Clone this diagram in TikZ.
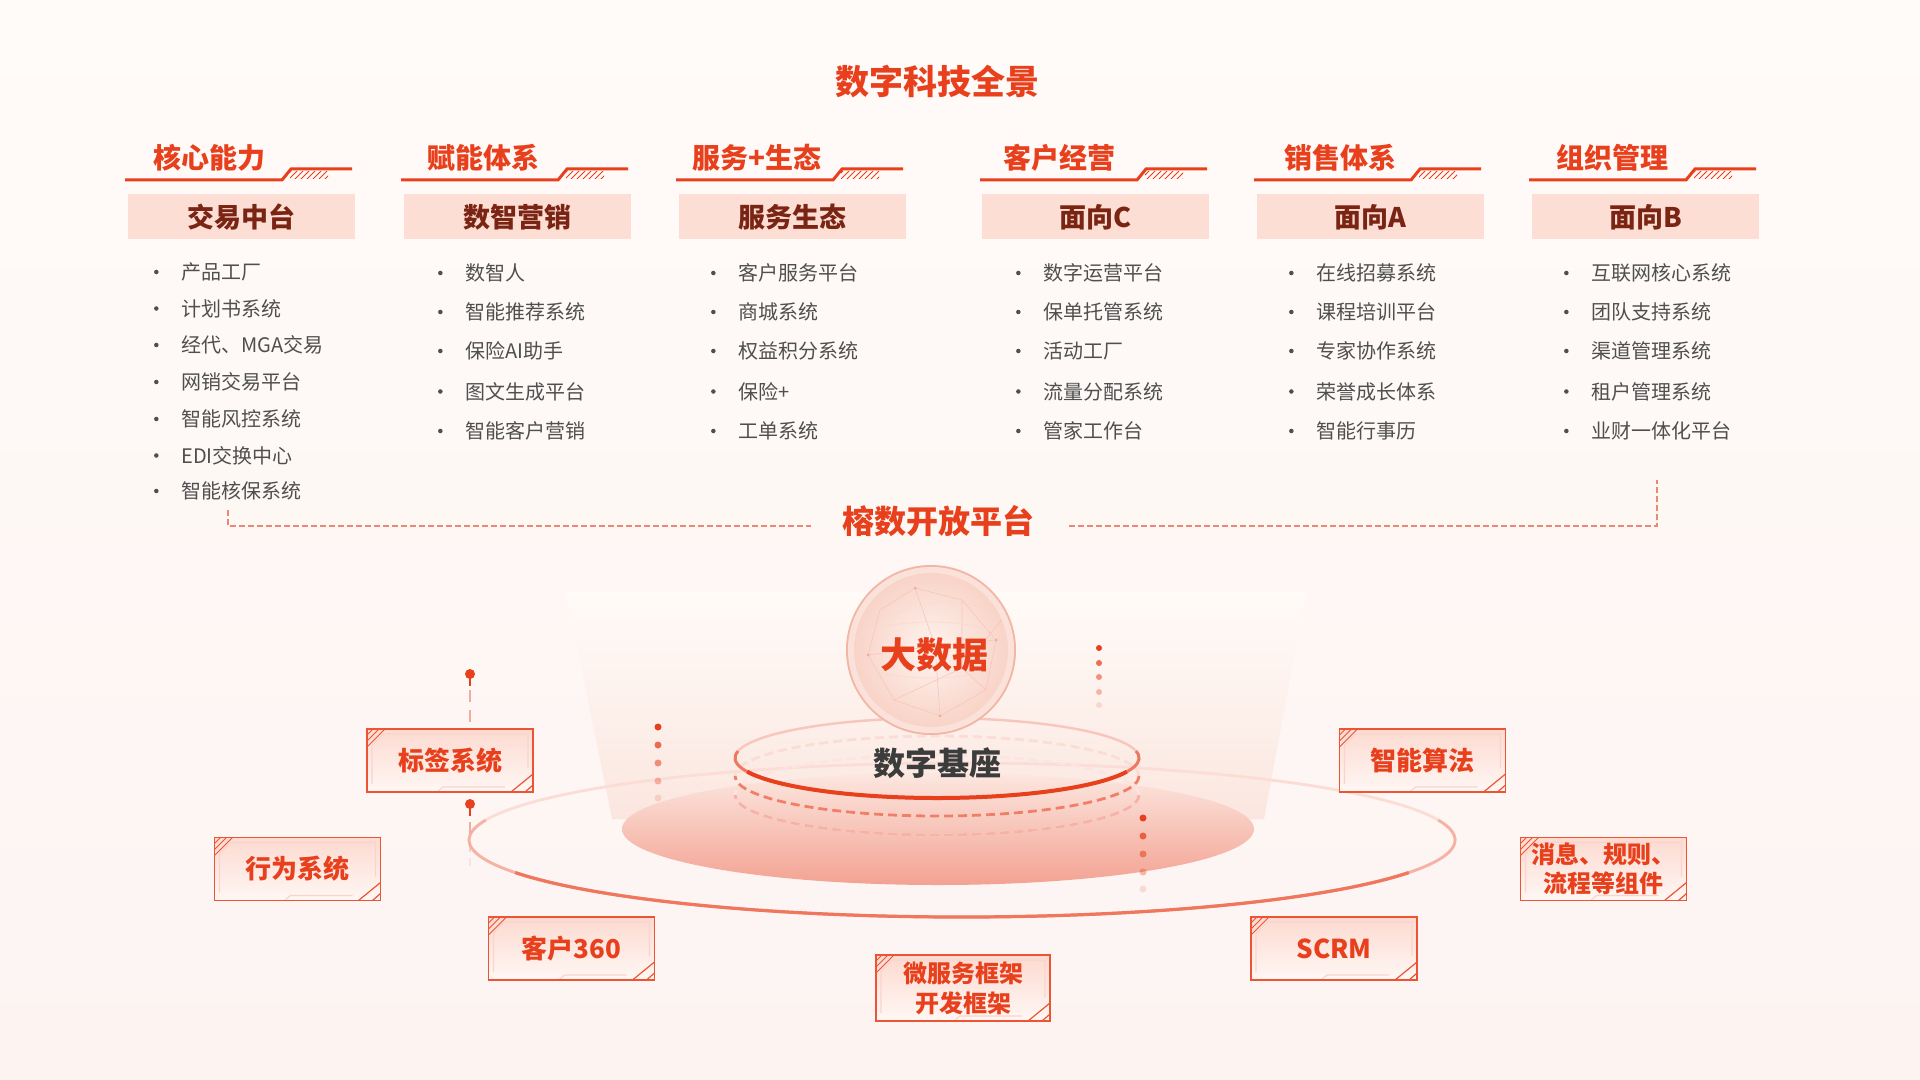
\documentclass[tikz,border=0pt]{standalone}
\usepackage{fontspec}
\setmainfont{Noto Sans CJK SC}
\usepackage{xcolor}
\usepackage{tikz}
\usetikzlibrary{patterns}
\definecolor{panored}{HTML}{E8401C}
\definecolor{panodark}{HTML}{7A2414}
\definecolor{panopink}{HTML}{FDDED4}
\definecolor{panogray}{HTML}{4F4F4F}
\definecolor{panodash}{HTML}{EE8676}
\definecolor{panoline}{HTML}{EC5434}
\definecolor{panobg}{HTML}{FFFBF8}
\definecolor{panobgb}{HTML}{FDF4F2}
\definecolor{panobeam}{HTML}{FBE6DF}
\definecolor{panodisca}{HTML}{FCE7E0}
\definecolor{panodiscb}{HTML}{F8CBBE}
\definecolor{panodiscc}{HTML}{F3A292}
\definecolor{panosphere}{HTML}{F8D0C3}
\definecolor{panospherein}{HTML}{FEF4F0}
\definecolor{panorim}{HTML}{F3B6A4}
\definecolor{panotext}{HTML}{3C3C3C}
\definecolor{panotaga}{HTML}{FCDAD0}
\definecolor{panotagb}{HTML}{FFF7F4}

\begin{document}
\begin{tikzpicture}[x=0.5pt,y=-0.5pt,
  hdr/.style={anchor=west, inner sep=0pt, text=panored, font=\bfseries\fontsize{14pt}{14pt}\selectfont},
  hdrline/.style={draw=panored, line width=1.5pt},
  hatch/.style={pattern=north east lines, pattern color=panored},
  subbox/.style={fill=panopink, text=panodark, font=\bfseries\fontsize{13.5pt}{13.5pt}\selectfont,
    minimum width=113.5pt, minimum height=22.5pt, inner sep=0pt},
  item/.style={anchor=west, inner sep=0pt, text=panogray, font=\fontsize{10pt}{12pt}\selectfont,
    label={[circle, fill=panogray, inner sep=0.8pt, label distance=11pt]west:{}}},
  platdash/.style={draw=panodash, line width=0.75pt, dash pattern=on 3pt off 1.5pt},
  dashring/.style={line width=1.4pt, dash pattern=on 4.5pt off 2.5pt},
  pindash/.style={draw=panodash!70, line width=0.8pt, dash pattern=on 6pt off 4pt},
  mesh/.style={draw=panored!30, line width=0.3pt},
  tagbox/.style={draw=panoline, line width=0.8pt, top color=panotaga, bottom color=panotagb,
    text=panored, font=\bfseries\fontsize{13pt}{15pt}\selectfont, align=center,
    minimum width=83pt, minimum height=31.5pt, inner sep=0pt,
    path picture={
      \draw[panoline, line width=0.5pt]
        ([yshift=-3pt]path picture bounding box.north west) -- ++(3pt,3pt)
        ([yshift=-6pt]path picture bounding box.north west) -- ++(6pt,6pt)
        ([yshift=-9pt]path picture bounding box.north west) -- ++(9pt,9pt);
      \draw[panoline!25, line width=0.6pt]
        ([shift={(2.5pt,4pt)}]path picture bounding box.south west)
        -- ([shift={(2.5pt,-8pt)}]path picture bounding box.north west)
        -- ([shift={(8pt,-2.5pt)}]path picture bounding box.north west)
        -- ([shift={(-2.5pt,-2.5pt)}]path picture bounding box.north east)
        -- ([shift={(-2.5pt,12pt)}]path picture bounding box.south east);
      \draw[panoline!25, line width=0.6pt]
        ([shift={(-14pt,2.5pt)}]path picture bounding box.south east)
        -- ([shift={(-45pt,2.5pt)}]path picture bounding box.south east) -- ++(-3pt,-2.5pt);
      \draw[panoline, line width=0.6pt]
        ([xshift=-11pt]path picture bounding box.south east) -- ++(11pt,9pt)
        ([xshift=-4pt]path picture bounding box.south east) -- ++(4pt,3.5pt);
    }}]

% Background
\shade[top color=panobg, bottom color=panobgb] (0,0) rectangle (1920,1080);

% Title
\node[text=panored, font=\bfseries\fontsize{17pt}{17pt}\selectfont] (title) at (937,82) {数字科技全景};

% Column headers
\node[hdr] (core) at (153,158) {核心能力};
\node[hdr] (enable) at (427,158) {赋能体系};
\node[hdr] (eco) at (692,158) {服务+生态};
\node[hdr] (cust) at (1003,158) {客户经营};
\node[hdr] (sales) at (1284,158) {销售体系};
\node[hdr] (org) at (1556,158) {组织管理};

\draw[hdrline] (125,180) -- (282,180) -- (291,169) -- (352,169);
\draw[hdrline] (401,180) -- (558,180) -- (567,169) -- (628,169);
\draw[hdrline] (676,180) -- (833,180) -- (842,169) -- (903,169);
\draw[hdrline] (980,180) -- (1137,180) -- (1146,169) -- (1207,169);
\draw[hdrline] (1254,180) -- (1411,180) -- (1420,169) -- (1481,169);
\draw[hdrline] (1529,180) -- (1686,180) -- (1695,169) -- (1756,169);
\fill[hatch] (290,172) rectangle (328,179);
\fill[hatch] (566,172) rectangle (604,179);
\fill[hatch] (841,172) rectangle (879,179);
\fill[hatch] (1145,172) rectangle (1183,179);
\fill[hatch] (1419,172) rectangle (1457,179);
\fill[hatch] (1694,172) rectangle (1732,179);

% Sub boxes
\node[subbox] (trade) at (241.5,217) {交易中台};
\node[subbox] (mkt) at (517,217) {数智营销};
\node[subbox] (svc) at (792.5,217) {服务生态};
\node[subbox] (toc) at (1095.5,217) {面向C};
\node[subbox] (toa) at (1370.5,217) {面向A};
\node[subbox] (tob) at (1645.5,217) {面向B};

% Items
\node[item] (trade1) at (181,272) {产品工厂};
\node[item] (trade2) at (181,308.5) {计划书系统};
\node[item] (trade3) at (181,345) {经代、MGA交易};
\node[item] (trade4) at (181,382) {网销交易平台};
\node[item] (trade5) at (181,419) {智能风控系统};
\node[item] (trade6) at (181,455.5) {EDI交换中心};
\node[item] (trade7) at (181,491) {智能核保系统};

\node[item] (mkt1) at (465,273) {数智人};
\node[item] (mkt2) at (465,312) {智能推荐系统};
\node[item] (mkt3) at (465,351) {保险AI助手};
\node[item] (mkt4) at (465,391.5) {图文生成平台};
\node[item] (mkt5) at (465,431) {智能客户营销};

\node[item] (svc1) at (738,273) {客户服务平台};
\node[item] (svc2) at (738,312) {商城系统};
\node[item] (svc3) at (738,351) {权益积分系统};
\node[item] (svc4) at (738,391.5) {保险+};
\node[item] (svc5) at (738,431) {工单系统};

\node[item] (toc1) at (1043,273) {数字运营平台};
\node[item] (toc2) at (1043,312) {保单托管系统};
\node[item] (toc3) at (1043,351) {活动工厂};
\node[item] (toc4) at (1043,391.5) {流量分配系统};
\node[item] (toc5) at (1043,431) {管家工作台};

\node[item] (toa1) at (1316,273) {在线招募系统};
\node[item] (toa2) at (1316,312) {课程培训平台};
\node[item] (toa3) at (1316,351) {专家协作系统};
\node[item] (toa4) at (1316,391.5) {荣誉成长体系};
\node[item] (toa5) at (1316,431) {智能行事历};

\node[item] (tob1) at (1591,273) {互联网核心系统};
\node[item] (tob2) at (1591,312) {团队支持系统};
\node[item] (tob3) at (1591,351) {渠道管理系统};
\node[item] (tob4) at (1591,391.5) {租户管理系统};
\node[item] (tob5) at (1591,431) {业财一体化平台};

% Open platform
\node[text=panored, font=\bfseries\fontsize{16pt}{16pt}\selectfont] (open) at (938,521) {榕数开放平台};
\coordinate (openL) at (228,510);
\coordinate (openLe) at (811,526);
\coordinate (openRe) at (1069,526);
\coordinate (openR) at (1657,480);
\draw[platdash] (openL) |- (openLe);
\draw[platdash] (openRe) -| (openR);

% Light beam
\shade[top color=panobg, bottom color=panobeam] (566,592) -- (1306,592) -- (1264,819) -- (612,819) -- cycle;

% Outer ring
\draw[draw=panoline!20, line width=1.4pt] (962,840) ellipse (493 and 77);
\draw[draw=panoline!45, line width=1.4pt] (962,840) ++(-15:493 and 77) arc[start angle=-15, end angle=195, x radius=493, y radius=77];
\draw[draw=panoline!80, line width=1.6pt] (962,840) ++(25:493 and 77) arc[start angle=25, end angle=155, x radius=493, y radius=77];

% Disc
\shade[top color=panodisca, middle color=panodiscb, bottom color=panodiscc] (938,829) ellipse (316 and 56);

% Dashed rings
\draw[dashring, draw=panoline!15] (937,795) ellipse (202 and 40);
\draw[dashring, draw=panoline!45] (937,795) ++(0:202 and 40) arc[start angle=0, end angle=180, x radius=202, y radius=40];
\draw[dashring, draw=panoline!20] (937,776) ellipse (202 and 40);
\draw[dashring, draw=panoline!75] (937,776) ++(0:202 and 40) arc[start angle=0, end angle=180, x radius=202, y radius=40];

% Base ring
\draw[draw=panored!30, line width=1.2pt] (937,758) ellipse (202 and 40);
\draw[draw=panored!70, line width=1.5pt] (937,758) ++(-10:202 and 40) arc[start angle=-10, end angle=190, x radius=202, y radius=40];
\draw[draw=panored, line width=2pt] (937,758) ++(20:202 and 40) arc[start angle=20, end angle=160, x radius=202, y radius=40];

% Sphere
\shade[inner color=panospherein, outer color=panosphere] (931,650) circle (84);
\begin{scope}
\clip (931,650) circle (84);
\draw[mesh] (880,610) -- (915,588) -- (962,600) -- (996,640) -- (986,690) -- (940,716) -- (894,700) -- (868,655) -- cycle;
\draw[mesh] (915,588) -- (935,646) -- (996,640) (868,655) -- (935,646) -- (940,716);
\draw[mesh] (962,600) -- (962,668) -- (986,690) (894,700) -- (962,668) -- (1010,610);
\draw[mesh, dotted] (850,640) .. controls (900,600) and (960,590) .. (1012,620);
\draw[mesh, dotted] (852,690) .. controls (910,720) and (970,715) .. (1010,680);
\draw[mesh, draw=panored!20] (931,650) ellipse (84 and 28);
\fill[panored!45] (915,588) circle (1.5) (996,640) circle (1.5) (940,716) circle (1.5) (868,655) circle (1.5) (962,668) circle (1.5);
\end{scope}
\draw[panorim, line width=1pt] (931,650) circle (84);
\draw[panorim!40, line width=3pt] (931,650) circle (80);
\node[text=panored, font=\bfseries\fontsize{18pt}{18pt}\selectfont] (bigdata) at (934,655) {大数据};

\node[text=panotext, font=\bfseries\fontsize{16pt}{16pt}\selectfont] (base) at (937,763) {数字基座};

% Dots
\fill[panored] (658,727) circle (3.5);
\fill[panored, opacity=.75] (658,745) circle (3.5);
\fill[panored, opacity=.55] (658,763) circle (3.5);
\fill[panored, opacity=.35] (658,781) circle (3.5);
\fill[panored, opacity=.15] (658,798) circle (3.5);
\fill[panored] (1099,648) circle (3);
\fill[panored, opacity=.75] (1099,663) circle (3);
\fill[panored, opacity=.55] (1099,677) circle (3);
\fill[panored, opacity=.35] (1099,692) circle (3);
\fill[panored, opacity=.15] (1099,705) circle (3);
\fill[panored] (1143,818) circle (3.5);
\fill[panored, opacity=.75] (1143,836) circle (3.5);
\fill[panored, opacity=.55] (1143,854) circle (3.5);
\fill[panored, opacity=.35] (1143,872) circle (3.5);
\fill[panored, opacity=.15] (1143,889) circle (3.5);

% Component boxes
\node[tagbox] (tag) at (450,760.5) {标签系统};
\node[tagbox] (behav) at (297.5,869) {行为系统};
\node[tagbox] (c360) at (571.5,948.5) {客户360};
\node[tagbox, minimum width=87pt, minimum height=33pt, font=\bfseries\fontsize{12pt}{15pt}\selectfont] (micro) at (963,988) {微服务框架\\开发框架};
\node[tagbox] (algo) at (1422.5,760.5) {智能算法};
\node[tagbox, font=\bfseries\fontsize{12pt}{14.5pt}\selectfont] (msg) at (1603.5,869) {消息、规则、\\流程等组件};
\node[tagbox] (scrm) at (1334,948.5) {SCRM};

% Pins
\coordinate (pin1) at (470,674);
\coordinate (pin2) at (470,804);
\fill[panored] (pin1) circle (5);
\draw[panored, line width=1pt] (pin1) -- ++(0,12);
\draw[pindash] ([yshift=-8pt]pin1) -- (pin1 |- tag.north);
\fill[panored] (pin2) circle (5);
\draw[panored, line width=1pt] (pin2) -- ++(0,12);
\draw[pindash] (470,822) -- (470,834);
\draw[pindash, opacity=.5] (470,842) -- (470,852);
\draw[pindash, opacity=.25] (470,858) -- (470,866);
\end{tikzpicture}
\end{document}
